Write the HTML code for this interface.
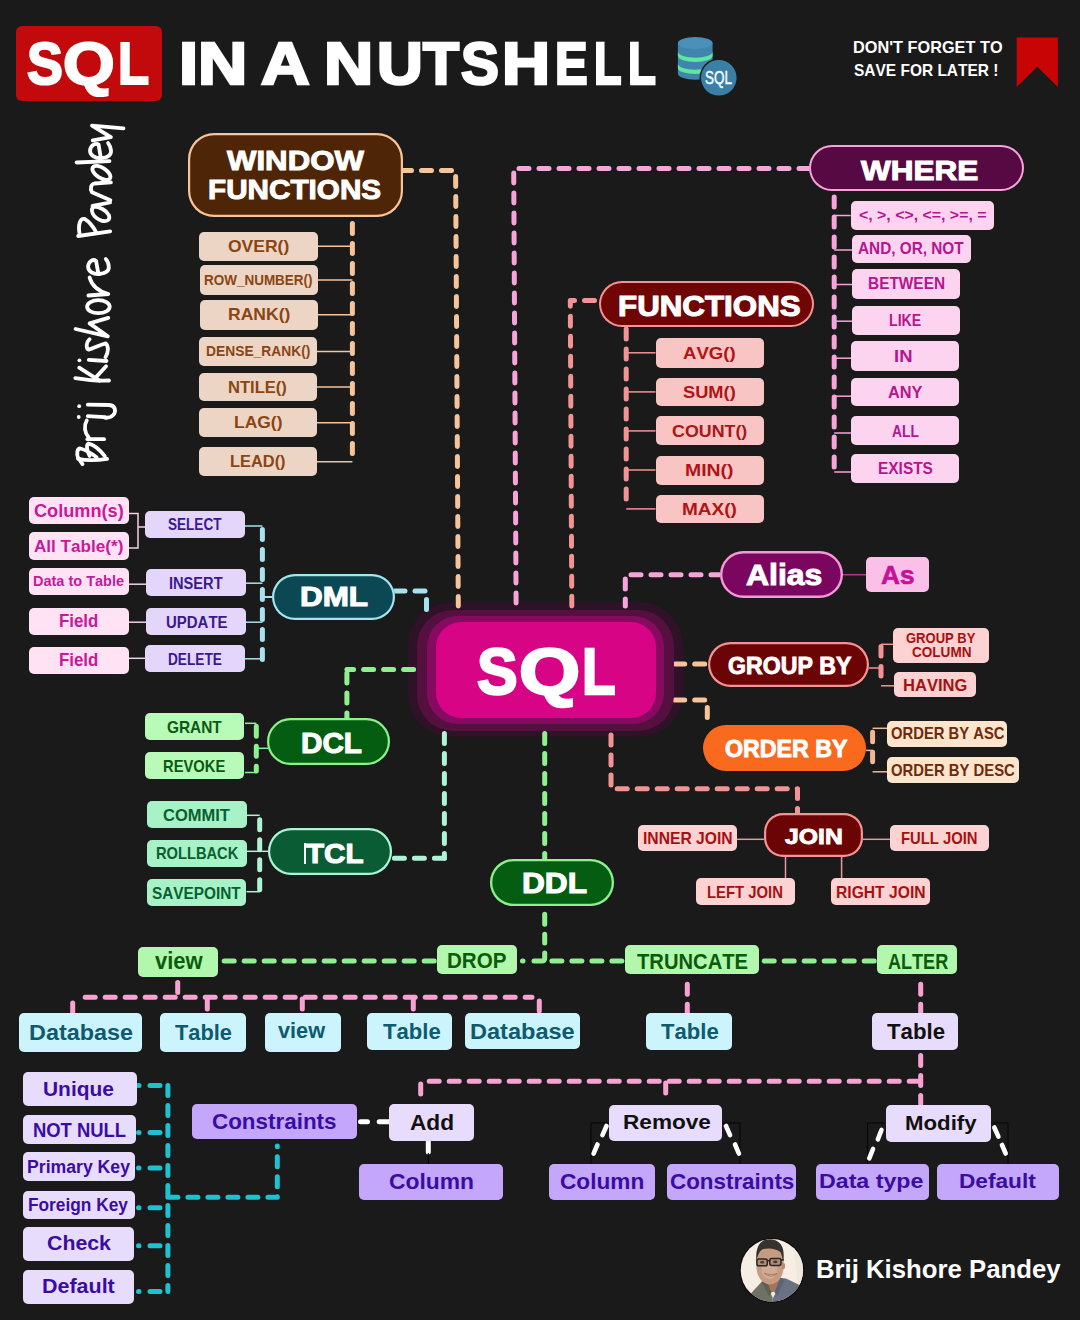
<!DOCTYPE html>
<html lang="en"><head><meta charset="utf-8"><title>SQL in a Nutshell</title>
<style>
html,body{margin:0;padding:0;background:#1a1a1a;}
#c{position:relative;width:1080px;height:1320px;overflow:hidden;background:#1a1a1a;font-family:"Liberation Sans",sans-serif;font-kerning:none;}
.b{position:absolute;box-sizing:border-box;}
.t{position:absolute;white-space:nowrap;line-height:normal;transform-origin:0 50%;letter-spacing:0;}
svg.l{position:absolute;left:0;top:0;}
</style></head><body><div id="c">
<svg class="l" width="1080" height="1320" viewBox="0 0 1080 1320">
<rect x="408" y="602.5" width="275" height="134" rx="42" fill="#2f1128"/>
<path d="M1016.7 37.5 L1057.9 37.5 L1057.9 87 L1037.3 66.7 L1016.7 87 Z" fill="#c80404"/>
<g>
<path d="M677.9 43 L677.9 73.5 A17.35 6.2 0 0 0 712.6 73.5 L712.6 43 Z" fill="#3f85ad"/>
<ellipse cx="695.25" cy="43" rx="17.35" ry="6" fill="#4b90b8"/>
<path d="M677.9 51.5 A17.35 6.2 0 0 0 712.6 51.5 L712.6 55.8 A17.35 6.2 0 0 1 677.9 55.8 Z" fill="#5fe6a0"/>
<path d="M677.9 63.6 A17.35 6.2 0 0 0 712.6 63.6 L712.6 67.9 A17.35 6.2 0 0 1 677.9 67.9 Z" fill="#5fe6a0"/>
<circle cx="718.8" cy="77.8" r="19.3" fill="#1a1a1a"/>
<circle cx="718.8" cy="77.8" r="17.8" fill="#3a7fa5"/>
</g>
<path d="M401.5 170.6 L455.6 170.6 L458.3 606.0" stroke="#f5c49a" stroke-width="5" stroke-dasharray="10 10" stroke-dashoffset="0" stroke-linecap="round" stroke-linejoin="round" fill="none"/>
<path d="M352.4 223.5 L352.4 456.0" stroke="#f5c49a" stroke-width="5" stroke-dasharray="10 10" stroke-dashoffset="0" stroke-linecap="round" stroke-linejoin="round" fill="none"/>
<path d="M317.5 246.3 L352.4 246.3" stroke="#f5c49a" stroke-width="1.5" fill="none"/>
<path d="M317.5 280.0 L352.4 280.0" stroke="#f5c49a" stroke-width="1.5" fill="none"/>
<path d="M317.5 314.8 L352.4 314.8" stroke="#f5c49a" stroke-width="1.5" fill="none"/>
<path d="M317.0 351.5 L352.4 351.5" stroke="#f5c49a" stroke-width="1.5" fill="none"/>
<path d="M317.0 387.1 L352.4 387.1" stroke="#f5c49a" stroke-width="1.5" fill="none"/>
<path d="M317.0 422.7 L352.4 422.7" stroke="#f5c49a" stroke-width="1.5" fill="none"/>
<path d="M317.0 461.7 L352.4 461.7" stroke="#f5c49a" stroke-width="1.5" fill="none"/>
<path d="M809.0 168.4 L513.7 168.4 L516.1 606.0" stroke="#f7a4da" stroke-width="5" stroke-dasharray="10 10" stroke-dashoffset="0" stroke-linecap="round" stroke-linejoin="round" fill="none"/>
<path d="M834.2 197.0 L834.2 470.0" stroke="#f7a4da" stroke-width="5" stroke-dasharray="10 10" stroke-dashoffset="0" stroke-linecap="round" stroke-linejoin="round" fill="none"/>
<path d="M834.2 215.5 L850.7 215.5" stroke="#f7a4da" stroke-width="1.5" fill="none"/>
<path d="M834.2 250.0 L852.0 250.0" stroke="#f7a4da" stroke-width="1.5" fill="none"/>
<path d="M834.2 284.5 L852.0 284.5" stroke="#f7a4da" stroke-width="1.5" fill="none"/>
<path d="M834.2 321.2 L852.0 321.2" stroke="#f7a4da" stroke-width="1.5" fill="none"/>
<path d="M834.2 358.2 L851.2 358.2" stroke="#f7a4da" stroke-width="1.5" fill="none"/>
<path d="M834.2 396.2 L851.2 396.2" stroke="#f7a4da" stroke-width="1.5" fill="none"/>
<path d="M834.2 433.0 L851.2 433.0" stroke="#f7a4da" stroke-width="1.5" fill="none"/>
<path d="M834.2 472.0 L851.2 472.0" stroke="#f7a4da" stroke-width="1.5" fill="none"/>
<path d="M599.0 300.4 L570.3 300.4 L571.8 606.0" stroke="#f39494" stroke-width="5" stroke-dasharray="10 10" stroke-dashoffset="-4.5" stroke-linecap="round" stroke-linejoin="round" fill="none"/>
<path d="M626.2 329.0 L626.2 501.0" stroke="#f39494" stroke-width="5" stroke-dasharray="10 10" stroke-dashoffset="0" stroke-linecap="round" stroke-linejoin="round" fill="none"/>
<path d="M626.2 352.8 L655.5 352.8" stroke="#f39494" stroke-width="1.5" fill="none"/>
<path d="M626.2 391.9 L655.5 391.9" stroke="#f39494" stroke-width="1.5" fill="none"/>
<path d="M626.2 430.9 L655.5 430.9" stroke="#f39494" stroke-width="1.5" fill="none"/>
<path d="M626.2 470.0 L655.5 470.0" stroke="#f39494" stroke-width="1.5" fill="none"/>
<path d="M626.2 508.9 L655.5 508.9" stroke="#f39494" stroke-width="1.5" fill="none"/>
<path d="M395.0 591.0 L426.5 591.0 L426.5 619.0" stroke="#a6e3ee" stroke-width="5" stroke-dasharray="10 10" stroke-dashoffset="0" stroke-linecap="round" stroke-linejoin="round" fill="none"/>
<path d="M262.4 529.5 L262.4 661.0" stroke="#a6e3ee" stroke-width="5" stroke-dasharray="10 10" stroke-dashoffset="0" stroke-linecap="round" stroke-linejoin="round" fill="none"/>
<path d="M262.4 597.0 L272.0 597.0" stroke="#a6e3ee" stroke-width="2" fill="none"/>
<path d="M128.8 513.4 L138.0 513.4 L138.0 548.0 L128.8 548.0" stroke="#f3cfe8" stroke-width="1.5" fill="none"/>
<path d="M138.0 527.0 L145.0 527.0" stroke="#f3cfe8" stroke-width="1.5" fill="none"/>
<path d="M128.8 584.2 L146.4 584.2" stroke="#f3cfe8" stroke-width="1.5" fill="none"/>
<path d="M128.8 622.2 L146.4 622.2" stroke="#f3cfe8" stroke-width="1.5" fill="none"/>
<path d="M128.8 658.3 L145.0 658.3" stroke="#f3cfe8" stroke-width="1.5" fill="none"/>
<path d="M244.6 526.0 L262.4 526.0" stroke="#a6e3ee" stroke-width="1.5" fill="none"/>
<path d="M244.6 583.2 L262.4 583.2" stroke="#a6e3ee" stroke-width="1.5" fill="none"/>
<path d="M244.6 622.2 L262.4 622.2" stroke="#a6e3ee" stroke-width="1.5" fill="none"/>
<path d="M244.6 658.8 L262.4 658.8" stroke="#a6e3ee" stroke-width="1.5" fill="none"/>
<path d="M346.9 723.1 L346.9 672.0" stroke="#8ef08e" stroke-width="5" stroke-dasharray="10 10" stroke-dashoffset="0" stroke-linecap="round" stroke-linejoin="round" fill="none"/>
<path d="M413.6 669.4 L346.9 669.4" stroke="#8ef08e" stroke-width="5" stroke-dasharray="10 10" stroke-dashoffset="0" stroke-linecap="round" stroke-linejoin="round" fill="none"/>
<path d="M245.0 723.3 L256.3 723.3" stroke="#8ef08e" stroke-width="1.5" fill="none"/>
<path d="M245.0 772.5 L256.3 772.5" stroke="#8ef08e" stroke-width="1.5" fill="none"/>
<path d="M256.3 748.3 L268.0 748.3" stroke="#8ef08e" stroke-width="1.5" fill="none"/>
<path d="M256.3 726.2 L256.3 771.0" stroke="#8ef08e" stroke-width="5" stroke-dasharray="10 10" stroke-dashoffset="0" stroke-linecap="round" stroke-linejoin="round" fill="none"/>
<path d="M444.4 733.5 L444.4 858.3" stroke="#aef3d4" stroke-width="5" stroke-dasharray="10 10" stroke-dashoffset="0" stroke-linecap="round" stroke-linejoin="round" fill="none"/>
<path d="M444.4 858.3 L392.0 858.3" stroke="#aef3d4" stroke-width="5" stroke-dasharray="10 10" stroke-dashoffset="0" stroke-linecap="round" stroke-linejoin="round" fill="none"/>
<path d="M246.5 815.3 L259.7 815.3" stroke="#aef3d4" stroke-width="1.5" fill="none"/>
<path d="M246.5 891.7 L259.7 891.7" stroke="#aef3d4" stroke-width="1.5" fill="none"/>
<path d="M246.5 851.3 L269.0 851.3" stroke="#aef3d4" stroke-width="1.5" fill="none"/>
<path d="M259.7 819.8 L259.7 891.0" stroke="#aef3d4" stroke-width="5" stroke-dasharray="10 10" stroke-dashoffset="0" stroke-linecap="round" stroke-linejoin="round" fill="none"/>
<path d="M721.0 574.7 L625.3 574.7 L625.3 606.0" stroke="#f7a4da" stroke-width="5" stroke-dasharray="10 10" stroke-dashoffset="0" stroke-linecap="round" stroke-linejoin="round" fill="none"/>
<path d="M842.0 574.7 L866.0 574.7" stroke="#b03a90" stroke-width="1.5" fill="none"/>
<path d="M674.7 664.0 L707.0 664.0" stroke="#f5c49a" stroke-width="5" stroke-dasharray="10 10" stroke-dashoffset="0" stroke-linecap="round" stroke-linejoin="round" fill="none"/>
<path d="M881.0 644.3 L894.0 644.3" stroke="#f39494" stroke-width="1.5" fill="none"/>
<path d="M868.0 668.0 L881.0 668.0" stroke="#f39494" stroke-width="1.5" fill="none"/>
<path d="M881.0 685.8 L894.0 685.8" stroke="#f39494" stroke-width="1.5" fill="none"/>
<path d="M881.0 646.6 L881.0 683.0" stroke="#f39494" stroke-width="5" stroke-dasharray="9.5 10.5" stroke-dashoffset="0" stroke-linecap="round" stroke-linejoin="round" fill="none"/>
<path d="M674.7 700.0 L707.3 700.0 L707.3 725.0" stroke="#f5c49a" stroke-width="5" stroke-dasharray="10 10" stroke-dashoffset="0" stroke-linecap="round" stroke-linejoin="round" fill="none"/>
<path d="M872.6 728.3 L887.0 728.3" stroke="#f2b896" stroke-width="1.5" fill="none"/>
<path d="M866.0 750.4 L872.6 750.4" stroke="#f2b896" stroke-width="1.5" fill="none"/>
<path d="M872.6 771.8 L887.0 771.8" stroke="#f2b896" stroke-width="1.5" fill="none"/>
<path d="M872.6 732.3 L872.6 770.0" stroke="#f2b896" stroke-width="5" stroke-dasharray="9.5 10.5" stroke-dashoffset="0" stroke-linecap="round" stroke-linejoin="round" fill="none"/>
<path d="M611.0 735.0 L611.0 788.8 L797.5 788.8 L797.5 813.0" stroke="#f39494" stroke-width="5" stroke-dasharray="10 10" stroke-dashoffset="0" stroke-linecap="round" stroke-linejoin="round" fill="none"/>
<path d="M737.0 839.3 L765.0 839.3" stroke="#e89a9a" stroke-width="1.5" fill="none"/>
<path d="M862.0 839.3 L890.0 839.3" stroke="#e89a9a" stroke-width="1.5" fill="none"/>
<path d="M785.5 856.0 L785.5 879.0" stroke="#e89a9a" stroke-width="1.5" fill="none"/>
<path d="M841.6 856.0 L841.6 879.0" stroke="#e89a9a" stroke-width="1.5" fill="none"/>
<path d="M544.7 733.5 L544.7 860.0" stroke="#8ef08e" stroke-width="5" stroke-dasharray="10 10" stroke-dashoffset="0" stroke-linecap="round" stroke-linejoin="round" fill="none"/>
<path d="M544.7 914.2 L544.7 943.0" stroke="#8ef08e" stroke-width="5" stroke-dasharray="10 10" stroke-dashoffset="0" stroke-linecap="round" stroke-linejoin="round" fill="none"/>
<path d="M544.7 953 L544.7 958 Q544.7 961 541.7 961 L534 961" stroke="#8ef08e" stroke-width="5" stroke-linecap="round" stroke-linejoin="round" fill="none"/>
<path d="M522.5 961.0 L523.0 961.0" stroke="#8ef08e" stroke-width="5" stroke-dasharray="10 10" stroke-dashoffset="0" stroke-linecap="round" stroke-linejoin="round" fill="none"/>
<path d="M224.2 961.0 L437.0 961.0" stroke="#8ef08e" stroke-width="5" stroke-dasharray="10 10" stroke-dashoffset="0" stroke-linecap="round" stroke-linejoin="round" fill="none"/>
<path d="M551.9 961.0 L625.0 961.0" stroke="#8ef08e" stroke-width="5" stroke-dasharray="10 10" stroke-dashoffset="0" stroke-linecap="round" stroke-linejoin="round" fill="none"/>
<path d="M764.2 961.0 L877.0 961.0" stroke="#8ef08e" stroke-width="5" stroke-dasharray="10 10" stroke-dashoffset="0" stroke-linecap="round" stroke-linejoin="round" fill="none"/>
<path d="M177.7 982.5 L177.7 997.3" stroke="#f7a2d2" stroke-width="5" stroke-dasharray="10 10" stroke-dashoffset="0" stroke-linecap="round" stroke-linejoin="round" fill="none"/>
<path d="M72.7 1003.0 L72.7 1012.5" stroke="#f7a2d2" stroke-width="5" stroke-dasharray="10 10" stroke-dashoffset="0" stroke-linecap="round" stroke-linejoin="round" fill="none"/>
<path d="M85.2 997.3 L532.0 997.3" stroke="#f7a2d2" stroke-width="5" stroke-dasharray="10 10" stroke-dashoffset="0" stroke-linecap="round" stroke-linejoin="round" fill="none"/>
<path d="M539.3 1001.0 L539.3 1012.0" stroke="#f7a2d2" stroke-width="5" stroke-dasharray="10 10" stroke-dashoffset="0" stroke-linecap="round" stroke-linejoin="round" fill="none"/>
<path d="M207.3 999.0 L207.3 1012.5" stroke="#f7a2d2" stroke-width="5" stroke-dasharray="10 10" stroke-dashoffset="0" stroke-linecap="round" stroke-linejoin="round" fill="none"/>
<path d="M302.3 999.0 L302.3 1012.5" stroke="#f7a2d2" stroke-width="5" stroke-dasharray="10 10" stroke-dashoffset="0" stroke-linecap="round" stroke-linejoin="round" fill="none"/>
<path d="M413.3 999.0 L413.3 1012.5" stroke="#f7a2d2" stroke-width="5" stroke-dasharray="10 10" stroke-dashoffset="0" stroke-linecap="round" stroke-linejoin="round" fill="none"/>
<path d="M687.3 984.2 L687.3 1013.0" stroke="#f7a2d2" stroke-width="5" stroke-dasharray="10 10" stroke-dashoffset="0" stroke-linecap="round" stroke-linejoin="round" fill="none"/>
<path d="M920.7 984.2 L920.7 1013.0" stroke="#f7a2d2" stroke-width="5" stroke-dasharray="10 10" stroke-dashoffset="0" stroke-linecap="round" stroke-linejoin="round" fill="none"/>
<path d="M920.7 1055.5 L920.7 1104.0" stroke="#f7a2d2" stroke-width="5" stroke-dasharray="10 10" stroke-dashoffset="0" stroke-linecap="round" stroke-linejoin="round" fill="none"/>
<path d="M429.2 1081.2 L920.0 1081.2" stroke="#f7a2d2" stroke-width="5" stroke-dasharray="10 10" stroke-dashoffset="0" stroke-linecap="round" stroke-linejoin="round" fill="none"/>
<path d="M420.7 1084.0 L420.7 1094.0" stroke="#f7a2d2" stroke-width="5" stroke-dasharray="10 10" stroke-dashoffset="0" stroke-linecap="round" stroke-linejoin="round" fill="none"/>
<path d="M665.7 1083.0 L665.7 1094.0" stroke="#f7a2d2" stroke-width="5" stroke-dasharray="10 10" stroke-dashoffset="0" stroke-linecap="round" stroke-linejoin="round" fill="none"/>
<path d="M167.9 1085.5 L167.9 1291.5" stroke="#1fc0d0" stroke-width="5" stroke-dasharray="10 10" stroke-dashoffset="0" stroke-linecap="round" stroke-linejoin="round" fill="none"/>
<path d="M138.5 1085.5 L139.0 1085.5" stroke="#1fc0d0" stroke-width="5" stroke-dasharray="10 10" stroke-dashoffset="0" stroke-linecap="round" stroke-linejoin="round" fill="none"/>
<path d="M150.0 1085.5 L160.0 1085.5" stroke="#1fc0d0" stroke-width="5" stroke-dasharray="10 10" stroke-dashoffset="0" stroke-linecap="round" stroke-linejoin="round" fill="none"/>
<path d="M138.5 1132.5 L139.0 1132.5" stroke="#1fc0d0" stroke-width="5" stroke-dasharray="10 10" stroke-dashoffset="0" stroke-linecap="round" stroke-linejoin="round" fill="none"/>
<path d="M150.0 1132.5 L160.0 1132.5" stroke="#1fc0d0" stroke-width="5" stroke-dasharray="10 10" stroke-dashoffset="0" stroke-linecap="round" stroke-linejoin="round" fill="none"/>
<path d="M138.5 1168.0 L139.0 1168.0" stroke="#1fc0d0" stroke-width="5" stroke-dasharray="10 10" stroke-dashoffset="0" stroke-linecap="round" stroke-linejoin="round" fill="none"/>
<path d="M150.0 1168.0 L160.0 1168.0" stroke="#1fc0d0" stroke-width="5" stroke-dasharray="10 10" stroke-dashoffset="0" stroke-linecap="round" stroke-linejoin="round" fill="none"/>
<path d="M138.5 1207.7 L139.0 1207.7" stroke="#1fc0d0" stroke-width="5" stroke-dasharray="10 10" stroke-dashoffset="0" stroke-linecap="round" stroke-linejoin="round" fill="none"/>
<path d="M150.0 1207.7 L160.0 1207.7" stroke="#1fc0d0" stroke-width="5" stroke-dasharray="10 10" stroke-dashoffset="0" stroke-linecap="round" stroke-linejoin="round" fill="none"/>
<path d="M138.5 1245.8 L139.0 1245.8" stroke="#1fc0d0" stroke-width="5" stroke-dasharray="10 10" stroke-dashoffset="0" stroke-linecap="round" stroke-linejoin="round" fill="none"/>
<path d="M150.0 1245.8 L160.0 1245.8" stroke="#1fc0d0" stroke-width="5" stroke-dasharray="10 10" stroke-dashoffset="0" stroke-linecap="round" stroke-linejoin="round" fill="none"/>
<path d="M138.5 1291.5 L139.0 1291.5" stroke="#1fc0d0" stroke-width="5" stroke-dasharray="10 10" stroke-dashoffset="0" stroke-linecap="round" stroke-linejoin="round" fill="none"/>
<path d="M150.0 1291.5 L160.0 1291.5" stroke="#1fc0d0" stroke-width="5" stroke-dasharray="10 10" stroke-dashoffset="0" stroke-linecap="round" stroke-linejoin="round" fill="none"/>
<path d="M167.9 1197.3 L277.3 1197.3 L277.3 1146.0" stroke="#1fc0d0" stroke-width="5" stroke-dasharray="10 10" stroke-dashoffset="0" stroke-linecap="round" stroke-linejoin="round" fill="none"/>
<path d="M360.5 1121.7 L367.5 1121.7" stroke="#fff" stroke-width="5" stroke-dasharray="10 10" stroke-dashoffset="0" stroke-linecap="round" stroke-linejoin="round" fill="none"/>
<path d="M379.2 1121.7 L389.0 1121.7" stroke="#fff" stroke-width="5" stroke-dasharray="10 10" stroke-dashoffset="0" stroke-linecap="round" stroke-linejoin="round" fill="none"/>
<path d="M428.3 1142.0 L428.3 1153.2" stroke="#fff" stroke-width="5" stroke-dasharray="10 10" stroke-dashoffset="0" stroke-linecap="round" stroke-linejoin="round" fill="none"/>
<path d="M428.3 1153.0 L428.3 1164.0" stroke="#000" stroke-width="1" fill="none"/>
<path d="M609.0 1123.0 L591.0 1123.0 L591.0 1164.0" stroke="#050505" stroke-width="1" fill="none"/>
<path d="M722.0 1123.0 L740.0 1123.0 L740.0 1164.0" stroke="#050505" stroke-width="1" fill="none"/>
<path d="M885.0 1123.0 L867.5 1123.0 L867.5 1164.0" stroke="#050505" stroke-width="1" fill="none"/>
<path d="M991.0 1123.0 L1008.0 1123.0 L1008.0 1164.0" stroke="#050505" stroke-width="1" fill="none"/>
<path d="M606.5 1126.0 L600.5 1139.5" stroke="#fff" stroke-width="4.6" stroke-dasharray="10 10" stroke-dashoffset="0" stroke-linecap="round" stroke-linejoin="round" fill="none"/>
<path d="M597.5 1144.5 L593.0 1155.0" stroke="#fff" stroke-width="4.6" stroke-dasharray="10 10" stroke-dashoffset="0" stroke-linecap="round" stroke-linejoin="round" fill="none"/>
<path d="M726.0 1126.0 L732.0 1139.5" stroke="#fff" stroke-width="4.6" stroke-dasharray="10 10" stroke-dashoffset="0" stroke-linecap="round" stroke-linejoin="round" fill="none"/>
<path d="M735.0 1144.5 L739.5 1155.0" stroke="#fff" stroke-width="4.6" stroke-dasharray="10 10" stroke-dashoffset="0" stroke-linecap="round" stroke-linejoin="round" fill="none"/>
<path d="M881.5 1130.0 L877.0 1141.5" stroke="#fff" stroke-width="4.6" stroke-dasharray="10 10" stroke-dashoffset="0" stroke-linecap="round" stroke-linejoin="round" fill="none"/>
<path d="M873.0 1149.0 L869.0 1159.0" stroke="#fff" stroke-width="4.6" stroke-dasharray="10 10" stroke-dashoffset="0" stroke-linecap="round" stroke-linejoin="round" fill="none"/>
<path d="M994.3 1127.5 L999.5 1139.0" stroke="#fff" stroke-width="4.6" stroke-dasharray="10 10" stroke-dashoffset="0" stroke-linecap="round" stroke-linejoin="round" fill="none"/>
<path d="M1002.0 1145.0 L1005.7 1153.5" stroke="#fff" stroke-width="4.6" stroke-dasharray="10 10" stroke-dashoffset="0" stroke-linecap="round" stroke-linejoin="round" fill="none"/>
<g>
<defs><clipPath id="av"><circle cx="771.9" cy="1270.3" r="31.2"/></clipPath></defs>
<circle cx="771.9" cy="1270.3" r="32.4" fill="#0c0c0c"/>
<g clip-path="url(#av)">
<rect x="739" y="1237" width="67" height="67" fill="#f7eee3"/>
<path d="M792 1237 L806 1237 L806 1290 L798 1284 Z" fill="#efe8dc"/>
<path d="M745 1300 L751.3 1293 L761.5 1282 L766 1279.5 L772.5 1290 L772.5 1304 L745 1304 Z" fill="#6e7163"/>
<path d="M772.5 1304 L772.5 1290 L780 1278 L786 1278.5 L799.5 1285 L806 1290 L806 1304 Z" fill="#6a7182"/>
<path d="M763.5 1279.5 L780.6 1277.5 L775 1292 L772.8 1294 L770 1292 Z" fill="#a57558"/>
<path d="M770 1292.2 L776.5 1291.5 L773 1298 Z" fill="#eceae4"/>
<path d="M761.5 1282 L766 1279 L771.5 1292.5 L769 1296 Z" fill="#5d6054"/>
<path d="M780.5 1277.5 L784.5 1279.5 L777.5 1295.5 L774.5 1292.5 Z" fill="#5b6376"/>
<ellipse cx="770" cy="1266.8" rx="13.6" ry="17.6" fill="#c59b82"/>
<path d="M756.6 1265 L757.2 1251 L763 1244.5 L778 1244 L783 1251 L783.4 1265 Z" fill="#c59b82"/>
<ellipse cx="769.5" cy="1270" rx="8" ry="9" fill="#d2ab93"/>
<ellipse cx="783.3" cy="1266" rx="1.8" ry="3.2" fill="#b98d74"/>
<path d="M756.3 1262 C755.5 1250 758 1243.5 764 1240.3 C770 1238.2 777 1239.5 780.5 1244 C783.8 1248 784.3 1255 783.2 1262 C782.3 1257 781.5 1254 780.5 1252.2 C776 1248.2 768 1247.6 762.5 1249.3 C759 1251.5 757.3 1256 756.3 1262 Z" fill="#38322f"/>
<rect x="756.9" y="1258.9" width="10.4" height="6.9" rx="1.8" fill="#b08d77" stroke="#2a2624" stroke-width="1.5"/>
<rect x="769.8" y="1258.5" width="11.2" height="6.9" rx="1.8" fill="#b08d77" stroke="#2a2624" stroke-width="1.5"/>
<ellipse cx="762.2" cy="1262.3" rx="2.2" ry="1.3" fill="#4a3a34"/><ellipse cx="775.3" cy="1261.9" rx="2.2" ry="1.3" fill="#4a3a34"/>
<path d="M767.3 1260.8 L769.8 1260.6 M781 1260.3 L784 1259.6" stroke="#2a2624" stroke-width="1.4" fill="none"/>
<path d="M764.5 1273.2 C768 1276.6 773.5 1276.8 777 1273.5 C773.5 1275 768 1275 764.5 1273.2 Z" fill="#f1e6dc" stroke="#8b5a45" stroke-width="0.7"/>
</g></g>
<g fill="none" stroke="#fff" stroke-width="3.8" stroke-linecap="round" stroke-linejoin="round"><path d="M 78.2 458.9 C 87.6 460.8 97.4 460.3 107.1 458.9"/><path d="M 78.7 458.4 L 82.5 464.1"/><path d="M 78.2 458.4 C 76.3 453.4 77.2 448.5 80.2 448.5 C 84.6 449.5 91.5 453.4 96.7 457.4"/><path d="M 89.6 455.9 C 86.6 450.5 86.1 444.6 88.6 443.6 C 93.5 444.6 100.4 450.5 104.8 456.2"/><path d="M 87.4 439.2 L 104.1 439.2"/><path d="M 88.6 437.2 C 84.6 432.8 83.6 425.9 86.8 420.4"/><path d="M 87.8 416.2 L 104.8 417.2"/><path d="M 87.8 404.7 L 109.3 405.0 C 115.2 405.7 116.7 411.1 113.2 415.0 C 110.7 417.5 107.3 418.0 104.8 417.6"/><path d="M 75.3 378.1 C 84.6 379.6 99.4 381.0 109.0 380.5"/><path d="M 79.2 367.7 L 99.4 380.7"/><path d="M 94.7 378.6 L 106.1 366.3"/><path d="M 88.8 359.9 L 106.5 361.0"/><path d="M 89.6 339.2 C 86.1 342.3 85.8 348.2 88.6 349.7 C 93.5 348.2 101.4 344.3 105.8 343.3 C 108.8 346.3 108.3 353.2 105.5 357.1"/><path d="M 75.6 329.0 L 107.8 336.4 L 89.6 323.4 L 108.3 317.9"/><path d="M 88.4 295.5 L 108.3 294.0 C 101.4 292.1 92.5 288.1 89.6 277.5"/><path d="M 98.4 273.8 L 96.0 260.7 C 93.0 258.6 88.4 261.5 88.1 266.5 C 88.1 271.4 93.5 274.5 99.4 274.0 C 105.3 273.3 109.3 271.4 108.8 266.5 C 108.5 262.5 107.3 260.5 105.8 259.1"/><path d="M 110.2 231.3 L 78.2 236.0"/><path d="M 79.7 234.7 C 77.7 224.4 80.2 218.0 84.6 218.9 C 89.6 221.9 94.0 228.3 96.3 232.4"/><path d="M 94.0 206.6 C 89.6 209.6 92.5 217.5 101.4 220.6 C 107.3 222.4 110.7 219.4 108.8 215.0 C 106.3 210.1 99.4 206.6 94.0 206.6"/><path d="M 92.5 205.8 L 110.0 202.5"/><path d="M 110.4 200.2 L 92.0 192.3 C 89.6 188.4 91.3 184.0 94.3 183.5 L 110.9 182.3"/><path d="M 76.6 162.5 L 109.5 161.1"/><path d="M 100.9 158.5 L 98.6 144.6 C 95.5 142.6 90.5 145.5 90.0 150.5 C 90.0 155.4 95.5 158.5 101.4 158.2 C 107.3 157.6 111.4 155.4 111.0 150.5 C 110.7 146.5 109.3 144.6 108.1 143.1"/><path d="M 92.7 140.4 L 110.9 137.2 L 92.0 125.6 L 123.5 128.4"/><ellipse cx="98.4" cy="306.7" rx="11.3" ry="6.5" transform="rotate(0 98.4 306.7)"/><ellipse cx="101.4" cy="172.9" rx="10.2" ry="5.1" transform="rotate(33 101.4 172.9)"/></g><circle cx="78.7" cy="417.0" r="1.9" fill="#fff"/><circle cx="79.2" cy="406.2" r="1.9" fill="#fff"/><circle cx="79.4" cy="360.3" r="1.9" fill="#fff"/>
</svg>
<div class="b" style="left:16.0px;top:26.0px;width:146.0px;height:75.0px;background:#c20a0c;border-radius:6px;"></div>
<span class="t" style="left:26.85px;top:29.87px;font-size:58.58px;color:#fff;font-weight:700;transform:scaleX(0.9175);-webkit-text-stroke:2.2px #fff;">S</span>
<span class="t" style="left:63.38px;top:29.87px;font-size:58.58px;color:#fff;font-weight:700;transform:scaleX(1.1327);-webkit-text-stroke:2.2px #fff;">Q</span>
<span class="t" style="left:118.40px;top:29.87px;font-size:58.58px;color:#fff;font-weight:700;transform:scaleX(0.8682);-webkit-text-stroke:2.2px #fff;">L</span>
<span class="t" style="left:179.20px;top:29.54px;font-size:58.72px;color:#fff;font-weight:700;transform:scaleX(1.1704);-webkit-text-stroke:2.6px #fff;">I</span>
<span class="t" style="left:197.74px;top:29.54px;font-size:58.72px;color:#fff;font-weight:700;transform:scaleX(1.1616);-webkit-text-stroke:2.6px #fff;">N</span>
<span class="t" style="left:260.63px;top:29.54px;font-size:58.72px;color:#fff;font-weight:700;transform:scaleX(1.1448);-webkit-text-stroke:2.6px #fff;">A</span>
<span class="t" style="left:324.04px;top:29.54px;font-size:58.72px;color:#fff;font-weight:700;transform:scaleX(1.1616);-webkit-text-stroke:2.6px #fff;">N</span>
<span class="t" style="left:376.79px;top:29.54px;font-size:58.72px;color:#fff;font-weight:700;transform:scaleX(1.0794);-webkit-text-stroke:2.6px #fff;">U</span>
<span class="t" style="left:423.34px;top:29.54px;font-size:58.72px;color:#fff;font-weight:700;transform:scaleX(1.0035);-webkit-text-stroke:2.6px #fff;">T</span>
<span class="t" style="left:461.37px;top:29.54px;font-size:58.72px;color:#fff;font-weight:700;transform:scaleX(0.9664);-webkit-text-stroke:2.6px #fff;">S</span>
<span class="t" style="left:501.85px;top:29.54px;font-size:58.72px;color:#fff;font-weight:700;transform:scaleX(1.1326);-webkit-text-stroke:2.6px #fff;">H</span>
<span class="t" style="left:554.73px;top:29.54px;font-size:58.72px;color:#fff;font-weight:700;transform:scaleX(0.8317);-webkit-text-stroke:2.6px #fff;">E</span>
<span class="t" style="left:594.29px;top:29.54px;font-size:58.72px;color:#fff;font-weight:700;transform:scaleX(0.7665);-webkit-text-stroke:2.6px #fff;">L</span>
<span class="t" style="left:628.25px;top:29.54px;font-size:58.72px;color:#fff;font-weight:700;transform:scaleX(0.7765);-webkit-text-stroke:2.6px #fff;">L</span>
<span class="t" style="left:853.41px;top:37.74px;font-size:16.86px;color:#fff;font-weight:700;transform:scaleX(0.9662);">DON&#x27;T FORGET TO</span>
<span class="t" style="left:854.05px;top:61.14px;font-size:16.86px;color:#fff;font-weight:700;transform:scaleX(0.9177);">SAVE FOR LATER !</span>
<span class="t" style="left:704.54px;top:67.48px;font-size:18.75px;color:#f4fbff;font-weight:400;transform:scaleX(0.7185);-webkit-text-stroke:0.5px #f4fbff;">SQL</span>
<div class="b" style="left:187.5px;top:133.0px;width:215.9px;height:84.1px;background:#4e2607;border-radius:26px;box-shadow:inset 0 0 0 2.2px #f5c49a;"></div>
<span class="t" style="left:226.67px;top:145.36px;font-size:27.33px;color:#fff;font-weight:700;transform:scaleX(1.1415);-webkit-text-stroke:1px #fff;">WINDOW</span>
<span class="t" style="left:207.51px;top:174.03px;font-size:27.47px;color:#fff;font-weight:700;transform:scaleX(1.0805);-webkit-text-stroke:1px #fff;">FUNCTIONS</span>
<div class="b" style="left:199.0px;top:232.0px;width:118.5px;height:28.6px;background:#edd5c5;border-radius:5px;"></div>
<span class="t" style="left:227.58px;top:236.92px;font-size:16.72px;color:#8a4513;font-weight:700;transform:scaleX(1.0476);">OVER()</span>
<div class="b" style="left:200.0px;top:265.4px;width:117.5px;height:29.3px;background:#edd5c5;border-radius:5px;"></div>
<span class="t" style="left:204.10px;top:272.14px;font-size:14.10px;color:#8a4513;font-weight:700;transform:scaleX(0.9561);">ROW_NUMBER()</span>
<div class="b" style="left:200.0px;top:300.0px;width:117.5px;height:29.6px;background:#edd5c5;border-radius:5px;"></div>
<span class="t" style="left:227.83px;top:305.42px;font-size:16.72px;color:#8a4513;font-weight:700;transform:scaleX(1.0493);">RANK()</span>
<div class="b" style="left:198.8px;top:337.0px;width:118.2px;height:29.0px;background:#edd5c5;border-radius:5px;"></div>
<span class="t" style="left:205.98px;top:343.18px;font-size:14.83px;color:#8a4513;font-weight:700;transform:scaleX(0.9320);">DENSE_RANK()</span>
<div class="b" style="left:198.8px;top:372.8px;width:118.2px;height:28.7px;background:#edd5c5;border-radius:5px;"></div>
<span class="t" style="left:227.89px;top:377.93px;font-size:16.42px;color:#8a4513;font-weight:700;transform:scaleX(1.0094);">NTILE()</span>
<div class="b" style="left:198.8px;top:408.2px;width:118.2px;height:29.0px;background:#edd5c5;border-radius:5px;"></div>
<span class="t" style="left:233.83px;top:413.32px;font-size:16.72px;color:#8a4513;font-weight:700;transform:scaleX(1.0458);">LAG()</span>
<div class="b" style="left:198.8px;top:447.2px;width:118.2px;height:29.0px;background:#edd5c5;border-radius:5px;"></div>
<span class="t" style="left:229.90px;top:452.48px;font-size:16.42px;color:#8a4513;font-weight:700;transform:scaleX(0.9994);">LEAD()</span>
<div class="b" style="left:808.7px;top:145.0px;width:215.1px;height:45.5px;background:#560943;border-radius:23px;box-shadow:inset 0 0 0 2px #f7a4da;"></div>
<span class="t" style="left:861.22px;top:153.59px;font-size:28.56px;color:#fff;font-weight:700;transform:scaleX(1.1049);-webkit-text-stroke:1.1px #fff;">WHERE</span>
<div class="b" style="left:850.7px;top:200.7px;width:143.8px;height:29.3px;background:#fdd4f0;border-radius:5px;"></div>
<span class="t" style="left:859.33px;top:207.19px;font-size:14.54px;color:#b5158f;font-weight:700;transform:scaleX(1.0920);">&lt;, &gt;, &lt;&gt;, &lt;=, &gt;=, =</span>
<div class="b" style="left:852.0px;top:234.5px;width:118.7px;height:28.7px;background:#fdd4f0;border-radius:5px;"></div>
<span class="t" style="left:857.62px;top:240.08px;font-size:15.63px;color:#b5158f;font-weight:700;transform:scaleX(0.9806);">AND, OR, NOT</span>
<div class="b" style="left:852.0px;top:269.2px;width:107.5px;height:29.5px;background:#fdd4f0;border-radius:5px;"></div>
<span class="t" style="left:867.67px;top:274.98px;font-size:15.99px;color:#b5158f;font-weight:700;transform:scaleX(0.9641);">BETWEEN</span>
<div class="b" style="left:852.0px;top:306.2px;width:107.5px;height:28.8px;background:#fdd4f0;border-radius:5px;"></div>
<span class="t" style="left:889.05px;top:311.22px;font-size:16.72px;color:#b5158f;font-weight:700;transform:scaleX(0.8456);">LIKE</span>
<div class="b" style="left:851.2px;top:341.2px;width:108.0px;height:29.5px;background:#fdd4f0;border-radius:5px;"></div>
<span class="t" style="left:894.46px;top:346.32px;font-size:17.15px;color:#b5158f;font-weight:700;transform:scaleX(1.0776);">IN</span>
<div class="b" style="left:851.2px;top:377.5px;width:108.0px;height:28.7px;background:#fdd4f0;border-radius:5px;"></div>
<span class="t" style="left:888.29px;top:382.22px;font-size:17.15px;color:#b5158f;font-weight:700;transform:scaleX(0.9519);">ANY</span>
<div class="b" style="left:851.2px;top:416.2px;width:108.0px;height:29.3px;background:#fdd4f0;border-radius:5px;"></div>
<span class="t" style="left:892.15px;top:421.63px;font-size:16.42px;color:#b5158f;font-weight:700;transform:scaleX(0.8448);">ALL</span>
<div class="b" style="left:851.2px;top:454.2px;width:108.0px;height:29.0px;background:#fdd4f0;border-radius:5px;"></div>
<span class="t" style="left:877.67px;top:459.32px;font-size:16.72px;color:#b5158f;font-weight:700;transform:scaleX(0.9241);">EXISTS</span>
<div class="b" style="left:599.2px;top:280.7px;width:215.3px;height:46.8px;background:#6f0505;border-radius:24px;box-shadow:inset 0 0 0 2px #f39494;"></div>
<span class="t" style="left:618.45px;top:289.14px;font-size:29.29px;color:#fff;font-weight:700;transform:scaleX(1.0695);-webkit-text-stroke:1.1px #fff;">FUNCTIONS</span>
<div class="b" style="left:655.5px;top:338.0px;width:108.2px;height:29.5px;background:#f8c4c4;border-radius:5px;"></div>
<span class="t" style="left:683.24px;top:343.57px;font-size:16.35px;color:#b01414;font-weight:700;transform:scaleX(1.1374);">AVG()</span>
<div class="b" style="left:655.5px;top:377.5px;width:108.2px;height:28.7px;background:#f8c4c4;border-radius:5px;"></div>
<span class="t" style="left:683.17px;top:382.67px;font-size:16.35px;color:#b01414;font-weight:700;transform:scaleX(1.1166);">SUM()</span>
<div class="b" style="left:655.5px;top:416.2px;width:108.2px;height:29.3px;background:#f8c4c4;border-radius:5px;"></div>
<span class="t" style="left:671.77px;top:421.67px;font-size:16.35px;color:#b01414;font-weight:700;transform:scaleX(1.0912);">COUNT()</span>
<div class="b" style="left:655.5px;top:455.5px;width:108.2px;height:29.0px;background:#f8c4c4;border-radius:5px;"></div>
<span class="t" style="left:684.90px;top:460.82px;font-size:16.35px;color:#b01414;font-weight:700;transform:scaleX(1.1885);">MIN()</span>
<div class="b" style="left:655.5px;top:494.5px;width:108.2px;height:28.7px;background:#f8c4c4;border-radius:5px;"></div>
<span class="t" style="left:681.73px;top:499.67px;font-size:16.35px;color:#b01414;font-weight:700;transform:scaleX(1.1629);">MAX()</span>
<div class="b" style="left:417.0px;top:609.5px;width:256.5px;height:121.0px;background:#561040;border-radius:36px;"></div>
<div class="b" style="left:426.5px;top:615.5px;width:237.5px;height:108.9px;background:#870a61;border-radius:31px;"></div>
<div class="b" style="left:435.5px;top:622.0px;width:220.8px;height:95.6px;background:#d70486;border-radius:25px;"></div>
<span class="t" style="left:477.24px;top:634.11px;font-size:64.83px;color:#fff;font-weight:700;transform:scaleX(0.9398);-webkit-text-stroke:2.4px #fff;">S</span>
<span class="t" style="left:518.78px;top:634.11px;font-size:64.83px;color:#fff;font-weight:700;transform:scaleX(1.2122);-webkit-text-stroke:2.4px #fff;">Q</span>
<span class="t" style="left:582.22px;top:634.11px;font-size:64.83px;color:#fff;font-weight:700;transform:scaleX(0.8477);-webkit-text-stroke:2.4px #fff;">L</span>
<div class="b" style="left:271.5px;top:574.0px;width:123.5px;height:46.0px;background:#0b4853;border-radius:23px;box-shadow:inset 0 0 0 2.2px #a6e3ee;"></div>
<span class="t" style="left:299.95px;top:580.58px;font-size:27.47px;color:#fff;font-weight:700;transform:scaleX(1.1422);-webkit-text-stroke:1.1px #fff;">DML</span>
<div class="b" style="left:144.7px;top:511.0px;width:99.9px;height:27.0px;background:#e4d6fb;border-radius:5px;"></div>
<span class="t" style="left:167.61px;top:515.13px;font-size:16.42px;color:#3a1890;font-weight:700;transform:scaleX(0.8263);">SELECT</span>
<div class="b" style="left:146.4px;top:569.3px;width:99.9px;height:27.2px;background:#e4d6fb;border-radius:5px;"></div>
<span class="t" style="left:168.72px;top:574.13px;font-size:16.42px;color:#3a1890;font-weight:700;transform:scaleX(0.8905);">INSERT</span>
<div class="b" style="left:146.4px;top:608.3px;width:99.9px;height:26.4px;background:#e4d6fb;border-radius:5px;"></div>
<span class="t" style="left:165.50px;top:612.63px;font-size:16.42px;color:#3a1890;font-weight:700;transform:scaleX(0.9120);">UPDATE</span>
<div class="b" style="left:144.7px;top:645.0px;width:99.9px;height:27.3px;background:#e4d6fb;border-radius:5px;"></div>
<span class="t" style="left:167.59px;top:649.93px;font-size:16.42px;color:#3a1890;font-weight:700;transform:scaleX(0.8326);">DELETE</span>
<div class="b" style="left:29.1px;top:496.6px;width:99.7px;height:27.4px;background:#ffe2f3;border-radius:5px;"></div>
<span class="t" style="left:34.16px;top:500.51px;font-size:17.44px;color:#c8189c;font-weight:700;transform:scaleX(1.0408);">Column(s)</span>
<div class="b" style="left:29.1px;top:532.4px;width:99.7px;height:27.2px;background:#ffe2f3;border-radius:5px;"></div>
<span class="t" style="left:34.47px;top:536.17px;font-size:17.15px;color:#c8189c;font-weight:700;transform:scaleX(0.9978);">All Table(*)</span>
<div class="b" style="left:29.1px;top:568.0px;width:99.7px;height:27.3px;background:#ffe2f3;border-radius:5px;"></div>
<span class="t" style="left:33.43px;top:573.31px;font-size:14.68px;color:#c8189c;font-weight:700;transform:scaleX(0.9880);">Data to Table</span>
<div class="b" style="left:29.1px;top:607.8px;width:99.7px;height:26.9px;background:#ffe2f3;border-radius:5px;"></div>
<span class="t" style="left:59.27px;top:611.21px;font-size:17.44px;color:#c8189c;font-weight:700;transform:scaleX(0.9665);">Field</span>
<div class="b" style="left:29.1px;top:646.8px;width:99.7px;height:27.2px;background:#ffe2f3;border-radius:5px;"></div>
<span class="t" style="left:59.27px;top:650.21px;font-size:17.44px;color:#c8189c;font-weight:700;transform:scaleX(0.9665);">Field</span>
<div class="b" style="left:267.0px;top:718.0px;width:123.3px;height:47.3px;background:#045d10;border-radius:23.6px;box-shadow:inset 0 0 0 2.2px #8ef08e;"></div>
<span class="t" style="left:301.06px;top:726.70px;font-size:29.22px;color:#fff;font-weight:700;transform:scaleX(1.0159);-webkit-text-stroke:1.1px #fff;">DCL</span>
<div class="b" style="left:144.8px;top:713.3px;width:99.6px;height:27.1px;background:#b8fbb8;border-radius:5px;"></div>
<span class="t" style="left:166.97px;top:718.53px;font-size:15.99px;color:#0a5a14;font-weight:700;transform:scaleX(0.9640);">GRANT</span>
<div class="b" style="left:144.8px;top:752.4px;width:99.6px;height:27.0px;background:#b8fbb8;border-radius:5px;"></div>
<span class="t" style="left:163.31px;top:757.63px;font-size:15.99px;color:#0a5a14;font-weight:700;transform:scaleX(0.9221);">REVOKE</span>
<div class="b" style="left:268.0px;top:828.3px;width:124.0px;height:46.7px;background:#0a5c34;border-radius:23.3px;box-shadow:inset 0 0 0 2.2px #aef3d4;"></div>
<span class="t" style="left:306.02px;top:837.36px;font-size:28.49px;color:#fff;font-weight:700;transform:scaleX(1.0409);-webkit-text-stroke:1.1px #fff;">TCL</span>
<div class="b" style="left:304.4px;top:843px;width:1.8px;height:20.7px;background:#f4fff8"></div>
<div class="b" style="left:147.2px;top:800.9px;width:99.8px;height:26.9px;background:#a8f2c8;border-radius:5px;"></div>
<span class="t" style="left:163.32px;top:805.89px;font-size:16.13px;color:#0a6030;font-weight:700;transform:scaleX(1.0250);">COMMIT</span>
<div class="b" style="left:147.2px;top:840.0px;width:99.8px;height:27.2px;background:#a8f2c8;border-radius:5px;"></div>
<span class="t" style="left:155.72px;top:845.03px;font-size:15.99px;color:#0a6030;font-weight:700;transform:scaleX(0.9177);">ROLLBACK</span>
<div class="b" style="left:146.7px;top:879.0px;width:99.8px;height:27.4px;background:#a8f2c8;border-radius:5px;"></div>
<span class="t" style="left:152.16px;top:883.69px;font-size:16.13px;color:#0a6030;font-weight:700;transform:scaleX(0.9525);">SAVEPOINT</span>
<div class="b" style="left:719.5px;top:551.3px;width:123.2px;height:47.0px;background:#7a0660;border-radius:23.5px;box-shadow:inset 0 0 0 2.4px #f29ad6;"></div>
<span class="t" style="left:745.50px;top:558.58px;font-size:29.07px;color:#fff;font-weight:700;transform:scaleX(1.0982);-webkit-text-stroke:1.0px #fff;">Alias</span>
<div class="b" style="left:865.7px;top:556.8px;width:63.2px;height:35.7px;background:#fbc0e8;border-radius:5px;"></div>
<span class="t" style="left:881.25px;top:560.68px;font-size:25.87px;color:#c8109a;font-weight:700;transform:scaleX(1.0138);-webkit-text-stroke:0.6px #c8109a;">As</span>
<div class="b" style="left:707.5px;top:642.0px;width:161.1px;height:45.4px;background:#6b0505;border-radius:22.7px;box-shadow:inset 0 0 0 2.2px #f39494;"></div>
<span class="t" style="left:727.50px;top:652.60px;font-size:23.69px;color:#fff;font-weight:700;transform:scaleX(0.9766);-webkit-text-stroke:0.9px #fff;">GROUP BY</span>
<div class="b" style="left:893.2px;top:627.5px;width:96.3px;height:35.5px;background:#fcd2d2;border-radius:5px;"></div>
<span class="t" style="left:906.27px;top:630.24px;font-size:14.10px;color:#a81010;font-weight:700;transform:scaleX(0.9234);">GROUP BY</span>
<span class="t" style="left:912.14px;top:643.94px;font-size:14.10px;color:#a81010;font-weight:700;transform:scaleX(0.9612);">COLUMN</span>
<div class="b" style="left:893.9px;top:672.2px;width:82.6px;height:24.8px;background:#fcd2d2;border-radius:5px;"></div>
<span class="t" style="left:903.49px;top:675.70px;font-size:16.57px;color:#a81010;font-weight:700;transform:scaleX(0.9983);">HAVING</span>
<div class="b" style="left:703.2px;top:724.6px;width:163.1px;height:46.2px;background:#fa6a1e;border-radius:23.1px;"></div>
<span class="t" style="left:724.80px;top:735.67px;font-size:23.40px;color:#fff;font-weight:700;transform:scaleX(0.9919);-webkit-text-stroke:0.9px #fff;">ORDER BY</span>
<div class="b" style="left:886.8px;top:720.5px;width:120.2px;height:26.7px;background:#fde4cc;border-radius:5px;"></div>
<span class="t" style="left:890.89px;top:724.93px;font-size:15.99px;color:#6e2a0a;font-weight:700;transform:scaleX(0.9259);">ORDER BY ASC</span>
<div class="b" style="left:886.8px;top:756.7px;width:132.2px;height:26.7px;background:#fde4cc;border-radius:5px;"></div>
<span class="t" style="left:890.89px;top:760.60px;font-size:16.57px;color:#6e2a0a;font-weight:700;transform:scaleX(0.8965);">ORDER BY DESC</span>
<div class="b" style="left:764.0px;top:812.6px;width:98.7px;height:44.6px;background:#6b0505;border-radius:19px;box-shadow:inset 0 0 0 2.2px #f39494;"></div>
<span class="t" style="left:785.08px;top:822.76px;font-size:22.97px;color:#fff;font-weight:700;transform:scaleX(1.0772);-webkit-text-stroke:0.9px #fff;">JOIN</span>
<div class="b" style="left:637.8px;top:824.5px;width:99.5px;height:26.7px;background:#fcd2d2;border-radius:5px;"></div>
<span class="t" style="left:642.75px;top:828.87px;font-size:16.72px;color:#a81010;font-weight:700;transform:scaleX(0.9377);">INNER JOIN</span>
<div class="b" style="left:889.8px;top:824.5px;width:99.2px;height:26.7px;background:#fcd2d2;border-radius:5px;"></div>
<span class="t" style="left:900.71px;top:828.87px;font-size:16.72px;color:#a81010;font-weight:700;transform:scaleX(0.8857);">FULL JOIN</span>
<div class="b" style="left:695.5px;top:878.3px;width:99.5px;height:26.7px;background:#fcd2d2;border-radius:5px;"></div>
<span class="t" style="left:707.31px;top:882.67px;font-size:16.72px;color:#a81010;font-weight:700;transform:scaleX(0.8895);">LEFT JOIN</span>
<div class="b" style="left:830.9px;top:878.3px;width:98.7px;height:26.7px;background:#fcd2d2;border-radius:5px;"></div>
<span class="t" style="left:835.85px;top:882.67px;font-size:16.72px;color:#a81010;font-weight:700;transform:scaleX(0.9367);">RIGHT JOIN</span>
<div class="b" style="left:490.3px;top:859.4px;width:123.6px;height:46.6px;background:#045d10;border-radius:23.3px;box-shadow:inset 0 0 0 2.3px #8ef08e;"></div>
<span class="t" style="left:522.43px;top:866.73px;font-size:28.63px;color:#fff;font-weight:700;transform:scaleX(1.1043);-webkit-text-stroke:1.1px #fff;">DDL</span>
<div class="b" style="left:138.3px;top:947.3px;width:80.0px;height:29.4px;background:#b2f7ae;border-radius:5px;"></div>
<span class="t" style="left:154.91px;top:946.72px;font-size:23.84px;color:#0a5c0a;font-weight:700;transform:scaleX(0.9238);">view</span>
<div class="b" style="left:437.3px;top:945.0px;width:79.4px;height:29.0px;background:#b2f7ae;border-radius:5px;"></div>
<span class="t" style="left:446.92px;top:947.56px;font-size:21.80px;color:#0a5c0a;font-weight:700;transform:scaleX(0.9443);">DROP</span>
<div class="b" style="left:625.0px;top:945.0px;width:134.0px;height:29.0px;background:#b2f7ae;border-radius:5px;"></div>
<span class="t" style="left:637.07px;top:948.56px;font-size:21.80px;color:#0a5c0a;font-weight:700;transform:scaleX(0.9259);">TRUNCATE</span>
<div class="b" style="left:876.7px;top:945.0px;width:80.0px;height:29.0px;background:#b2f7ae;border-radius:5px;"></div>
<span class="t" style="left:887.85px;top:948.56px;font-size:21.80px;color:#0a5c0a;font-weight:700;transform:scaleX(0.8287);">ALTER</span>
<div class="b" style="left:19.3px;top:1012.7px;width:123.0px;height:39.0px;background:#ccf4fd;border-radius:5px;"></div>
<span class="t" style="left:29.14px;top:1019.56px;font-size:21.80px;color:#0e5a6e;font-weight:700;transform:scaleX(1.0723);">Database</span>
<div class="b" style="left:160.0px;top:1012.7px;width:86.0px;height:39.0px;background:#ccf4fd;border-radius:5px;"></div>
<span class="t" style="left:175.45px;top:1019.56px;font-size:21.80px;color:#0e5a6e;font-weight:700;transform:scaleX(1.0008);">Table</span>
<div class="b" style="left:264.7px;top:1012.6px;width:75.9px;height:39.4px;background:#ccf4fd;border-radius:5px;"></div>
<span class="t" style="left:277.92px;top:1017.37px;font-size:22.67px;color:#0e5a6e;font-weight:700;transform:scaleX(0.9570);">view</span>
<div class="b" style="left:367.3px;top:1012.7px;width:85.0px;height:37.3px;background:#ccf4fd;border-radius:5px;"></div>
<span class="t" style="left:383.05px;top:1018.56px;font-size:21.80px;color:#0e5a6e;font-weight:700;transform:scaleX(1.0133);">Table</span>
<div class="b" style="left:465.0px;top:1012.7px;width:115.0px;height:36.8px;background:#ccf4fd;border-radius:5px;"></div>
<span class="t" style="left:470.13px;top:1019.26px;font-size:21.80px;color:#0e5a6e;font-weight:700;transform:scaleX(1.0797);">Database</span>
<div class="b" style="left:646.0px;top:1012.7px;width:85.7px;height:37.3px;background:#ccf4fd;border-radius:5px;"></div>
<span class="t" style="left:660.75px;top:1019.26px;font-size:21.80px;color:#0e5a6e;font-weight:700;transform:scaleX(1.0133);">Table</span>
<div class="b" style="left:872.3px;top:1012.7px;width:85.4px;height:37.3px;background:#e8dcfc;border-radius:5px;"></div>
<span class="t" style="left:887.05px;top:1019.26px;font-size:21.80px;color:#111;font-weight:700;transform:scaleX(1.0187);">Table</span>
<div class="b" style="left:22.6px;top:1072.0px;width:114.9px;height:34.2px;background:#e8dcfc;border-radius:5px;"></div>
<span class="t" style="left:43.14px;top:1077.02px;font-size:20.64px;color:#3a0ca3;font-weight:700;transform:scaleX(1.0148);">Unique</span>
<div class="b" style="left:22.6px;top:1114.5px;width:113.6px;height:29.3px;background:#e8dcfc;border-radius:5px;"></div>
<span class="t" style="left:32.97px;top:1118.58px;font-size:20.35px;color:#3a0ca3;font-weight:700;transform:scaleX(0.9051);">NOT NULL</span>
<div class="b" style="left:23.4px;top:1152.0px;width:111.5px;height:29.4px;background:#e8dcfc;border-radius:5px;"></div>
<span class="t" style="left:27.12px;top:1157.01px;font-size:17.44px;color:#3a0ca3;font-weight:700;transform:scaleX(1.0115);">Primary Key</span>
<div class="b" style="left:23.4px;top:1190.8px;width:111.5px;height:28.4px;background:#e8dcfc;border-radius:5px;"></div>
<span class="t" style="left:28.14px;top:1195.21px;font-size:17.44px;color:#3a0ca3;font-weight:700;transform:scaleX(0.9916);">Foreign Key</span>
<div class="b" style="left:22.6px;top:1226.5px;width:111.4px;height:34.1px;background:#e8dcfc;border-radius:5px;"></div>
<span class="t" style="left:46.73px;top:1231.32px;font-size:20.64px;color:#3a0ca3;font-weight:700;transform:scaleX(1.0323);">Check</span>
<div class="b" style="left:22.6px;top:1270.3px;width:111.4px;height:34.1px;background:#e8dcfc;border-radius:5px;"></div>
<span class="t" style="left:42.16px;top:1274.32px;font-size:20.64px;color:#3a0ca3;font-weight:700;transform:scaleX(1.0407);">Default</span>
<div class="b" style="left:192.3px;top:1104.0px;width:165.0px;height:35.0px;background:#c4a6fb;border-radius:5px;"></div>
<span class="t" style="left:212.38px;top:1109.26px;font-size:21.80px;color:#3a0ca3;font-weight:700;transform:scaleX(1.0281);">Constraints</span>
<div class="b" style="left:389.0px;top:1104.0px;width:85.0px;height:37.0px;background:#e8dcfc;border-radius:5px;"></div>
<span class="t" style="left:410.14px;top:1110.26px;font-size:21.80px;color:#111;font-weight:700;transform:scaleX(1.0396);">Add</span>
<div class="b" style="left:359.0px;top:1164.0px;width:144.3px;height:36.0px;background:#c4a6fb;border-radius:5px;"></div>
<span class="t" style="left:389.06px;top:1169.26px;font-size:21.80px;color:#3a0ca3;font-weight:700;transform:scaleX(1.0482);">Column</span>
<div class="b" style="left:609.2px;top:1104.5px;width:112.8px;height:36.0px;background:#e8dcfc;border-radius:5px;"></div>
<span class="t" style="left:623.49px;top:1110.02px;font-size:20.64px;color:#111;font-weight:700;transform:scaleX(1.0957);">Remove</span>
<div class="b" style="left:885.5px;top:1104.5px;width:105.7px;height:37.2px;background:#e8dcfc;border-radius:5px;"></div>
<span class="t" style="left:904.71px;top:1110.52px;font-size:20.64px;color:#111;font-weight:700;transform:scaleX(1.0769);">Modify</span>
<div class="b" style="left:549.2px;top:1164.2px;width:105.8px;height:35.8px;background:#c4a6fb;border-radius:5px;"></div>
<span class="t" style="left:560.27px;top:1168.96px;font-size:21.80px;color:#3a0ca3;font-weight:700;transform:scaleX(1.0393);">Column</span>
<div class="b" style="left:667.0px;top:1164.2px;width:129.2px;height:35.8px;background:#c4a6fb;border-radius:5px;"></div>
<span class="t" style="left:669.58px;top:1168.96px;font-size:21.80px;color:#3a0ca3;font-weight:700;transform:scaleX(1.0264);">Constraints</span>
<div class="b" style="left:816.2px;top:1163.7px;width:112.5px;height:36.3px;background:#c4a6fb;border-radius:5px;"></div>
<span class="t" style="left:818.95px;top:1169.12px;font-size:21.08px;color:#3a0ca3;font-weight:700;transform:scaleX(1.0998);">Data type</span>
<div class="b" style="left:936.7px;top:1163.7px;width:122.8px;height:36.3px;background:#c4a6fb;border-radius:5px;"></div>
<span class="t" style="left:958.98px;top:1169.12px;font-size:21.08px;color:#3a0ca3;font-weight:700;transform:scaleX(1.0751);">Default</span>
<span class="t" style="left:815.58px;top:1254.22px;font-size:26.60px;color:#fff;font-weight:700;transform:scaleX(0.9675);">Brij Kishore Pandey</span>
</div></body></html>
